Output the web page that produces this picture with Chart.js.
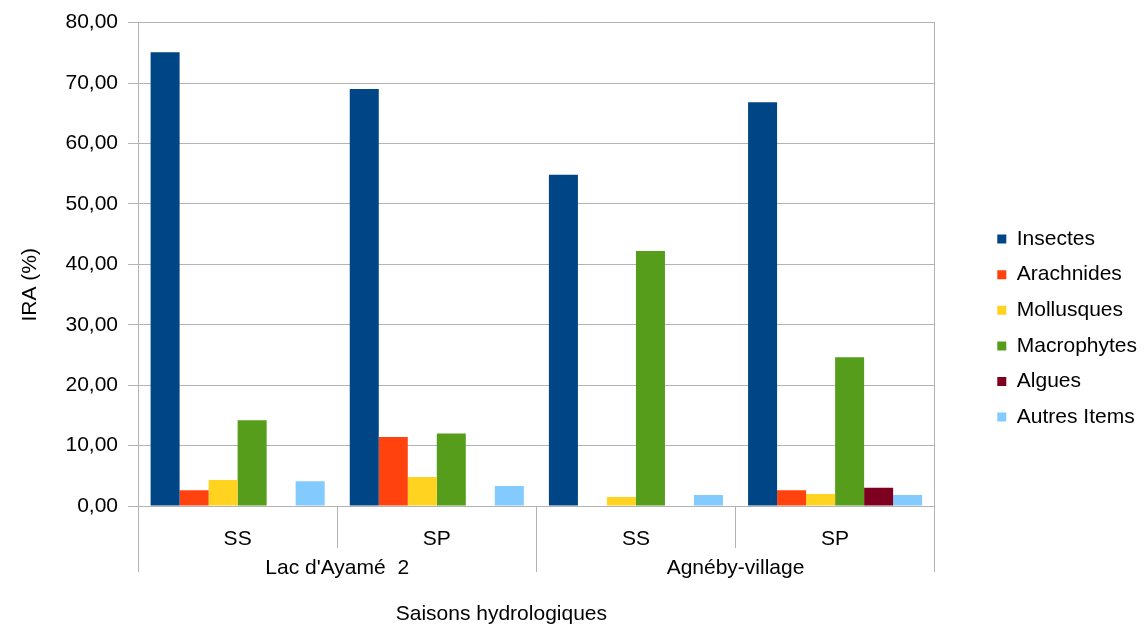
<!DOCTYPE html>
<html>
<head>
<meta charset="utf-8">
<script src="https://cdn.jsdelivr.net/npm/chart.js@4"></script>
<style>
  html, body { margin: 0; padding: 0; background: #fff; }
  #wrap { width: 1148px; height: 627px; position: relative; }
</style>
</head>
<body>
<div id="wrap"><canvas id="chart_ira"></canvas></div>
<script>
// saisons / sites
var seasons = ['SS', 'SP', 'SS', 'SP'];
var sites = ["Lac d'Ayamé  2", 'Agnéby-village'];

// IRA (%) par catégorie de proie
var insectes = [75.1, 69.0, 54.8, 66.8];
var arachnides = [2.6, 11.4, 0, 2.6];
var mollusques = [4.3, 4.8, 1.5, 2.0];
var macrophytes = [14.2, 12.0, 42.2, 24.6];
var algues = [0, 0, 0, 3.0];
var autresItems = [4.1, 3.3, 1.8, 1.8];

var gridColor = '#b3b3b3';
Chart.defaults.font.family = "'Liberation Sans', Arial, sans-serif";
Chart.defaults.font.size = 21;
Chart.defaults.color = '#000';

var chart_ira = new Chart(document.getElementById('chart_ira'), {
    type: 'bar',
    data: {
        labels: seasons,
        datasets: [
            { label: 'Insectes', data: insectes, backgroundColor: '#004586' },
            { label: 'Arachnides', data: arachnides, backgroundColor: '#ff420e' },
            { label: 'Mollusques', data: mollusques, backgroundColor: '#ffd320' },
            { label: 'Macrophytes', data: macrophytes, backgroundColor: '#579d1c' },
            { label: 'Algues', data: algues, backgroundColor: '#7e0021' },
            { label: 'Autres Items', data: autresItems, backgroundColor: '#83caff' }
        ]
    },
    options: {
        animation: false,
        responsive: true,
        maintainAspectRatio: false,
        categoryPercentage: 0.874,
        barPercentage: 1,
        layout: {
            padding: { top: 21, right: 1, bottom: 0, left: 0 }
        },
        plugins: {
            legend: {
                position: 'right',
                title: { display: true, text: ' ', font: { size: 1 }, padding: { top: 7, bottom: 0 } },
                labels: {
                    boxWidth: 9,
                    boxHeight: 9,
                    padding: 14.6
                }
            },
            tooltip: { enabled: false }
        },
        scales: {
            x: {
                type: 'category',
                position: 'bottom',
                grid: {
                    offset: true,
                    drawOnChartArea: false,
                    tickLength: 42,
                    color: gridColor
                },
                border: { display: true, color: gridColor },
                ticks: { padding: -21.5, maxRotation: 0, autoSkip: false },
                afterFit: function (scale) { scale.height = 41; }
            },
            x2: {
                type: 'category',
                position: 'bottom',
                labels: sites,
                offset: true,
                grid: {
                    offset: true,
                    drawOnChartArea: false,
                    tickLength: 25,
                    color: gridColor
                },
                border: { display: false },
                ticks: { padding: -16.6, maxRotation: 0, autoSkip: false },
                title: {
                    display: true,
                    text: 'Saisons hydrologiques            ',
                    padding: { top: 37.8, bottom: 0 }
                }
            },
            y: {
                min: 0,
                max: 80,
                ticks: {
                    stepSize: 10,
                    padding: 10,
                    callback: function (v) { return v.toFixed(2).replace('.', ','); }
                },
                grid: { color: gridColor, tickLength: 10 },
                border: { color: gridColor },
                title: {
                    display: true,
                    text: 'IRA (%)       ',
                    padding: { top: 17.4, bottom: 12.9 }
                }
            },
            yr: {
                position: 'right',
                min: 0,
                max: 80,
                ticks: { display: false },
                grid: { drawOnChartArea: false, drawTicks: false },
                border: { color: gridColor },
                afterFit: function (scale) { scale.width = 48; }
            }
        }
    },
    plugins: [{
        id: 'whiteBg',
        beforeDraw: (chart) => {
            const ctx = chart.canvas.getContext('2d');
            ctx.save();
            ctx.globalCompositeOperation = 'destination-over';
            ctx.fillStyle = 'white';
            ctx.fillRect(0, 0, chart.canvas.width, chart.canvas.height);
            ctx.restore();
        }
    }]
});
</script>
</body>
</html>
